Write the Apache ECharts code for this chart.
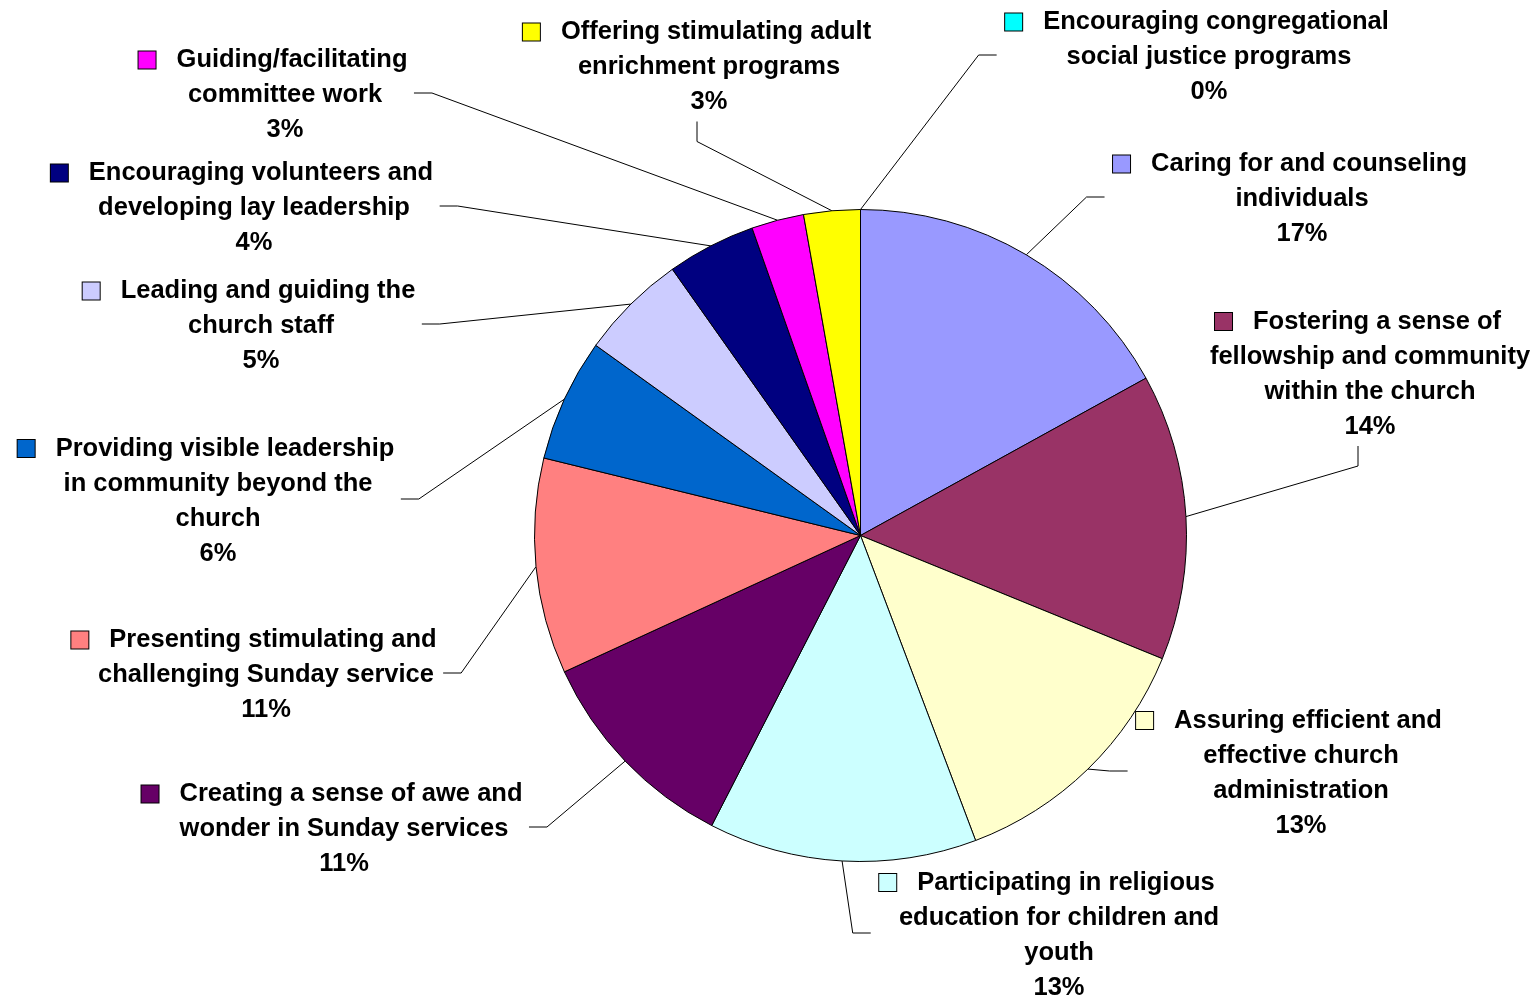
<!DOCTYPE html>
<html>
<head>
<meta charset="utf-8">
<script src="https://cdn.jsdelivr.net/npm/echarts@6/dist/echarts.min.js"></script>
<style>
  html, body { margin: 0; padding: 0; background: #ffffff; }
  #chart { width: 1538px; height: 997px; }
</style>
</head>
<body>
<div id="chart"></div>
<script>
// ---- data ----
const categories = [
  'Encouraging congregational\nsocial justice programs',
  'Caring for and counseling\nindividuals',
  'Fostering a sense of\nfellowship and community\nwithin the church',
  'Assuring efficient and\neffective church\nadministration',
  'Participating in religious\neducation for children and\nyouth',
  'Creating a sense of awe and\nwonder in Sunday services',
  'Presenting stimulating and\nchallenging Sunday service',
  'Providing visible leadership\nin community beyond the\nchurch',
  'Leading and guiding the\nchurch staff',
  'Encouraging volunteers and\ndeveloping lay leadership',
  'Guiding/facilitating\ncommittee work',
  'Offering stimulating adult\nenrichment programs'
];
const shares = [0, 17.0, 14.2, 13.1, 13.3, 10.6, 10.7, 6.1, 5.3, 4.4, 2.6, 2.8];
const colors = ['#00FFFF', '#9999FF', '#993366', '#FFFFCC', '#CCFFFF', '#660066',
                '#FF8080', '#0066CC', '#CCCCFF', '#000080', '#FF00FF', '#FFFF00'];

// ---- label placement (block centre x, centre y, side where the leader line attaches) ----
const labelPlace = [
  [1209, 55, 'left'],
  [1302, 197, 'left'],
  [1370, 372, 'bottom'],
  [1301, 771, 'left'],
  [1059, 933, 'left'],
  [344, 827, 'right'],
  [266, 673, 'right'],
  [218, 499, 'right'],
  [261, 324, 'right'],
  [254, 206, 'right'],
  [285, 93, 'right'],
  [709, 65, 'bottom']
];
const textShiftY = 2;

const chart = echarts.init(document.getElementById('chart'), null, { renderer: 'canvas' });

const rich = {
  g: { width: 21 },
  s: { width: 24 }
};
colors.forEach((c, i) => {
  rich['k' + i] = {
    width: 17, height: 17,
    backgroundColor: c,
    borderColor: '#000000',
    borderWidth: 1
  };
});

const option = {
  animation: false,
  backgroundColor: '#ffffff',
  series: [{
    type: 'pie',
    center: [860.5, 535.5],
    radius: 326,
    startAngle: 90,
    clockwise: true,
    avoidLabelOverlap: false,
    minShowLabelAngle: 0,
    data: categories.map((name, i) => ({
      name: name,
      value: shares[i],
      itemStyle: { color: colors[i] }
    })),
    itemStyle: { borderColor: '#000000', borderWidth: 1 },
    emphasis: { disabled: true },
    label: {
      show: true,
      position: 'outside',
      color: '#000000',
      fontFamily: '"Liberation Sans", Arial, sans-serif',
      fontWeight: 'bold',
      fontSize: 25.5,
      lineHeight: 35,
      align: 'center',
      rich: rich,
      formatter: function (p) {
        const lines = p.name.split('\n');
        let s = '{k' + p.dataIndex + '|}{g|}' + lines[0] + '{s|}';
        for (let j = 1; j < lines.length; j++) s += '\n' + lines[j];
        s += '\n' + Math.round(p.percent) + '%';
        return s;
      }
    },
    labelLine: {
      show: true,
      smooth: false,
      lineStyle: { color: '#000000', width: 1 }
    },
    labelLayout: function (params) {
      const pl = labelPlace[params.dataIndex];
      const cx = pl[0], cy = pl[1], side = pl[2];
      const w = params.labelRect.width, h = params.labelRect.height;
      const p0 = params.labelLinePoints ? params.labelLinePoints[0].slice() : [cx, cy];
      let end, elbow;
      if (side === 'left') {
        end = [cx - w / 2 - 8, cy];
        elbow = [end[0] - 18, cy];
      } else if (side === 'right') {
        end = [cx + w / 2 - 18, cy];
        elbow = [end[0] + 18, cy];
      } else {
        end = [cx - 12, cy + h / 2 + 4];
        elbow = [end[0], end[1] + 20];
      }
      return {
        x: cx, y: cy + textShiftY,
        align: 'center', verticalAlign: 'middle',
        labelLinePoints: [p0, elbow, end]
      };
    }
  }]
};
chart.setOption(option);
</script>
</body>
</html>
